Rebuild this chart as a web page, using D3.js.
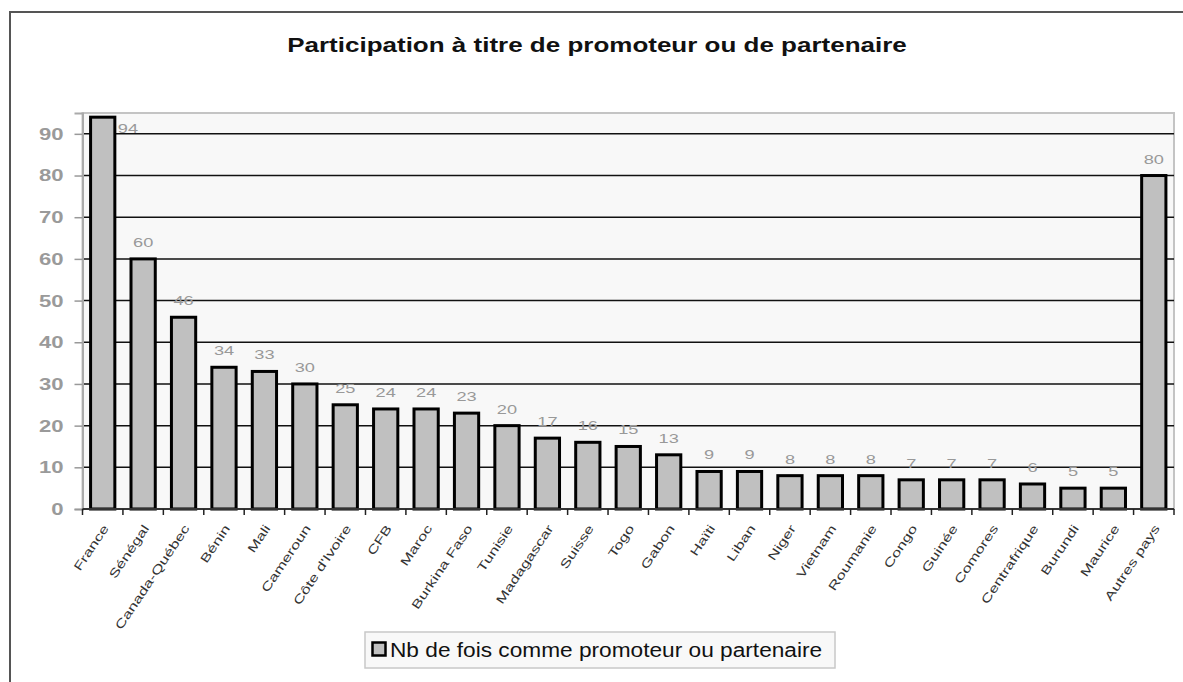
<!DOCTYPE html>
<html>
<head>
<meta charset="utf-8">
<script src="https://cdn.jsdelivr.net/npm/d3@7"></script>
<style>
  body { margin: 0; background: #fff; }
  svg { display: block; font-family: "Liberation Sans", Arial, sans-serif; }
</style>
</head>
<body>
<script>
// data
const categories = ["France", "Sénégal", "Canada-Québec", "Bénin", "Mali", "Cameroun", "Côte d'Ivoire",
  "CFB", "Maroc", "Burkina Faso", "Tunisie", "Madagascar", "Suisse", "Togo", "Gabon", "Haïti",
  "Liban", "Niger", "Vietnam", "Roumanie", "Congo", "Guinée", "Comores", "Centrafrique",
  "Burundi", "Maurice", "Autres pays"];
const values = [94, 60, 46, 34, 33, 30, 25, 24, 24, 23, 20, 17, 16, 15, 13, 9, 9, 8, 8, 8, 7, 7, 7, 6, 5, 5, 80];
const yTicks = [0, 10, 20, 30, 40, 50, 60, 70, 80, 90];
const title = "Participation à titre de promoteur ou de partenaire";
const legendLabel = "Nb de fois comme promoteur ou partenaire";

const data = categories.map((c, i) => ({ name: c, value: values[i] }));

const W = 1183, H = 682;
const plot = { left: 82.5, right: 1174, top: 113, bottom: 509 };
const stretch = 1.3; // the source picture is widened a bit

const svg = d3.select("body").append("svg")
  .attr("width", W)
  .attr("height", H);

// chart frame (only top and left edges are visible)
svg.append("path")
  .attr("d", `M10,${H} V12 H${W}`)
  .attr("fill", "none")
  .attr("stroke", "#555")
  .attr("stroke-width", 2);

svg.append("g")
  .attr("transform", `translate(597,52) scale(${stretch},1)`)
  .append("text")
  .attr("text-anchor", "middle")
  .attr("font-size", 20)
  .attr("font-weight", "bold")
  .attr("fill", "#111")
  .text(title);

const y = d3.scaleLinear().domain([0, 95]).range([plot.bottom, plot.top]);
const x = d3.scaleBand().domain(categories).range([plot.left, plot.right]).padding(0);
const step = x.step();
const barW = step * 0.6;

// plot area
svg.append("rect")
  .attr("x", plot.left)
  .attr("y", plot.top)
  .attr("width", plot.right - plot.left)
  .attr("height", plot.bottom - plot.top)
  .attr("fill", "#f8f8f8")
  .attr("stroke", "#c4c4c4")
  .attr("stroke-width", 2);

// gridlines
svg.append("g")
  .selectAll("line")
  .data(yTicks.filter(d => d > 0))
  .join("line")
  .attr("x1", plot.left)
  .attr("x2", plot.right)
  .attr("y1", d => y(d))
  .attr("y2", d => y(d))
  .attr("stroke", "#111")
  .attr("stroke-width", 1.5);

// y axis
const yAxis = svg.append("g")
  .attr("transform", `translate(${plot.left},0)`)
  .call(d3.axisLeft(y).tickValues(yTicks).tickSize(8).tickPadding(11));
yAxis.select(".domain").attr("stroke", "#aaa").attr("stroke-width", 2);
yAxis.selectAll(".tick line").attr("stroke", "#999").attr("stroke-width", 1.5);
yAxis.selectAll(".tick text")
  .attr("font-family", "Liberation Sans, Arial, sans-serif")
  .attr("font-size", 17)
  .attr("font-weight", "bold")
  .attr("fill", "#9a9a9a")
  .attr("x", -19 / stretch)
  .attr("transform", `scale(${stretch},1)`);

// bars
svg.append("g")
  .selectAll("rect")
  .data(data)
  .join("rect")
  .attr("x", d => x(d.name) + (step - barW) / 2)
  .attr("y", d => y(d.value))
  .attr("width", barW)
  .attr("height", d => y(0) - y(d.value))
  .attr("fill", "#c0c0c0")
  .attr("stroke", "#000")
  .attr("stroke-width", 3);

// x axis line and boundary ticks
svg.append("line")
  .attr("x1", plot.left)
  .attr("x2", plot.right)
  .attr("y1", y(0))
  .attr("y2", y(0))
  .attr("stroke", "#333")
  .attr("stroke-width", 2);

svg.append("g")
  .selectAll("line")
  .data(categories.map(c => x(c)).concat([x(categories[categories.length - 1]) + step]))
  .join("line")
  .attr("x1", d => d)
  .attr("x2", d => d)
  .attr("y1", y(0))
  .attr("y2", y(0) + 6)
  .attr("stroke", "#222")
  .attr("stroke-width", 1.5);

// category labels
svg.append("g")
  .selectAll("g")
  .data(data)
  .join("g")
  .attr("transform", d => `translate(${x(d.name) + step / 2 + 3},${y(0) + 17}) rotate(-56) scale(1.4,1)`)
  .append("text")
  .attr("text-anchor", "end")
  .attr("dy", "0.35em")
  .attr("font-size", 12)
  .attr("fill", "#333")
  .text(d => d.name);

// value labels
svg.append("g")
  .selectAll("g")
  .data(data)
  .join("g")
  .attr("transform", d => {
    const top = y(d.value);
    if (top - 12 < plot.top + 10) {
      return `translate(${x(d.name) + (step + barW) / 2 + 3},${top + 16}) scale(1.4,1)`;
    }
    return `translate(${x(d.name) + step / 2},${top - 12}) scale(1.4,1)`;
  })
  .append("text")
  .attr("text-anchor", d => (y(d.value) - 12 < plot.top + 10 ? "start" : "middle"))
  .attr("font-size", 13)
  .attr("fill", "#999")
  .text(d => d.value);

// legend
const legend = svg.append("g").attr("transform", "translate(365,632)");
legend.append("rect")
  .attr("width", 470)
  .attr("height", 36)
  .attr("fill", "#f8f8f8")
  .attr("stroke", "#c8c8c8")
  .attr("stroke-width", 1.5);
legend.append("rect")
  .attr("x", 7.5)
  .attr("y", 10.5)
  .attr("width", 13)
  .attr("height", 13)
  .attr("fill", "#c0c0c0")
  .attr("stroke", "#000")
  .attr("stroke-width", 2.5);
legend.append("g")
  .attr("transform", "translate(25,25) scale(1.08,1)")
  .append("text")
  .attr("font-size", 21)
  .attr("fill", "#111")
  .text(legendLabel);
</script>
</body>
</html>
